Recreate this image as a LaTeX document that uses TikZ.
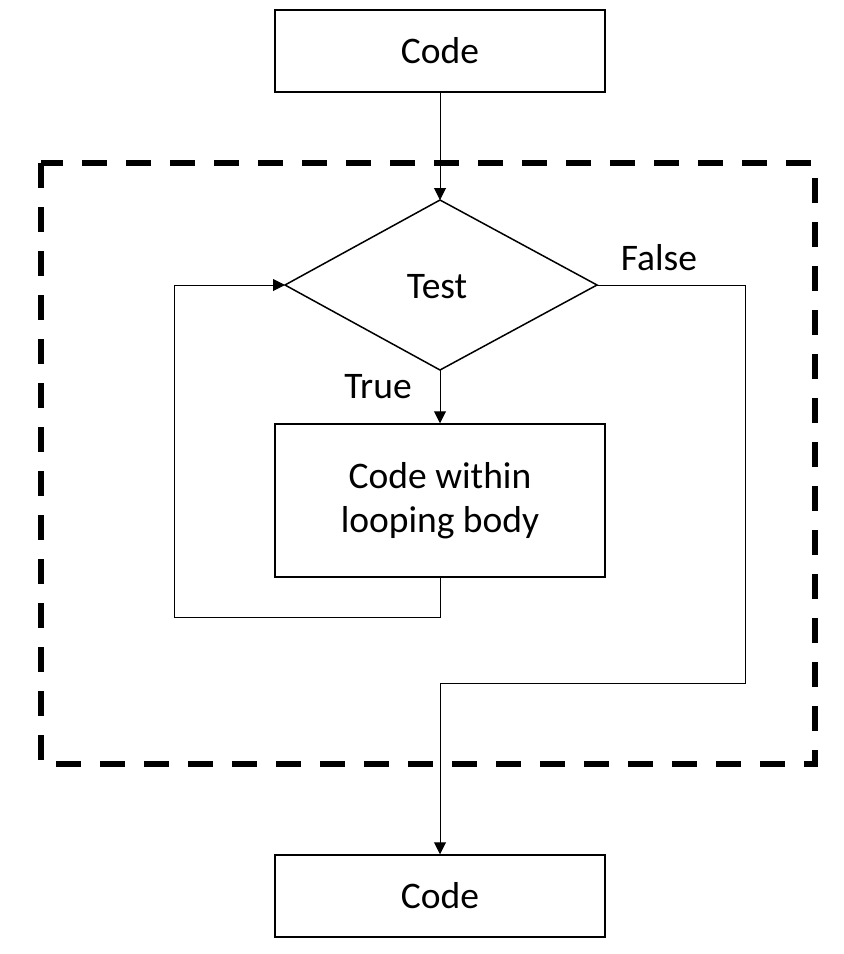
\documentclass[tikz,border=0pt]{standalone}
\usepackage{fontspec}
\setmainfont{Carlito}
\usetikzlibrary{arrows.meta,shapes.geometric}
\begin{document}
\begin{tikzpicture}[x=1pt,y=-1pt,
  box/.style={draw,line width=1.5pt,minimum width=330pt,inner sep=0pt,font=\fontsize{37.5}{44}\selectfont,align=center},
  lbl/.style={font=\fontsize{37.5}{44}\selectfont,inner sep=0pt},
  conn/.style={line width=1pt,-{Triangle[length=12pt,width=12pt]}},
  plain/.style={line width=1pt}]
\useasboundingbox (0,0) rectangle (844,954);
\draw[line width=6pt,dash pattern=on 25pt off 19pt] (41,163) rectangle (815,764);
\node[box,minimum height=82pt] (top) at (440,51) {Code};
\node[box,minimum height=153pt] (body) at (440,500.5) {Code within\\looping body};
\node[box,minimum height=82pt] (bot) at (440,896) {Code};
\coordinate (dt) at (440,200);
\coordinate (dr) at (597,285);
\coordinate (db) at (440,370);
\coordinate (dl) at (285,285);
\draw[line width=1.5pt] (dt) -- (dr) -- (db) -- (dl) -- cycle;
\node[lbl] (test) at (437,287) {Test};
\node[lbl] (false) at (659,258) {False};
\node[lbl] (true) at (378,387) {True};
\draw[conn] (top.south) -- (dt);
\draw[conn] (db) -- (body.north);
\coordinate (l1) at (440,617);
\coordinate (l2) at (174,617);
\coordinate (l3) at (174,285);
\draw[conn] (body.south) -- (l1) -- (l2) -- (l3) -- (dl);
\coordinate (f1) at (745,285);
\coordinate (f2) at (745,683);
\coordinate (f3) at (440,683);
\draw[conn] (dr) -- (f1) -- (f2) -- (f3) -- (bot.north);
\end{tikzpicture}
\end{document}
